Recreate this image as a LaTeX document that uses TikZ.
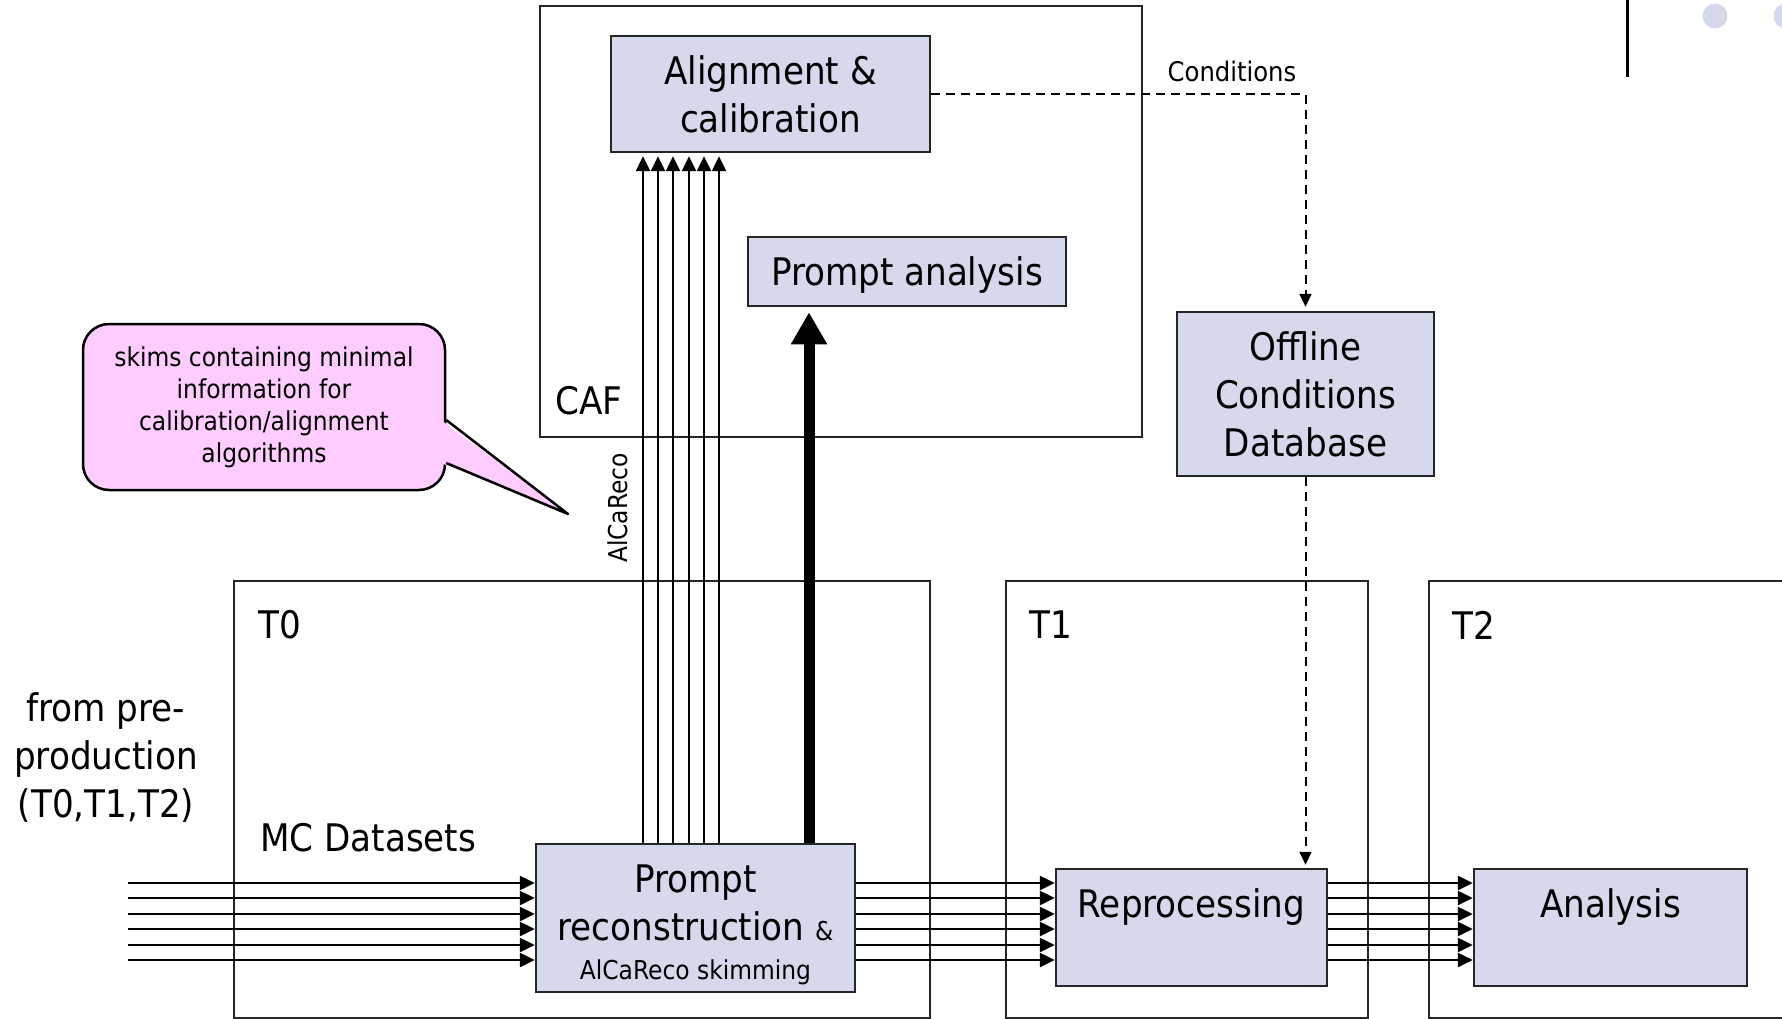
\documentclass[tikz,border=0pt]{standalone}
\usepackage{fontspec}
\setmainfont{DejaVu Sans Condensed}
\usetikzlibrary{arrows.meta}
\definecolor{boxfill}{RGB}{214,216,236}
\definecolor{notepink}{RGB}{255,204,255}
\newcommand{\bigfont}{\fontsize{38}{48}\selectfont}
\newcommand{\smallfont}{\fontsize{26}{32}\selectfont}
\tikzset{
  procbox/.style={draw=black!85, line width=2.5pt, fill=boxfill, align=center, inner sep=0pt, font=\bigfont},
  notebox/.style={draw=black, line width=2.5pt, fill=notepink, rounded corners=26pt, align=center, inner sep=0pt, font=\smallfont},
  region/.style={draw=black!85, line width=2pt},
  tag/.style={inner sep=0pt, font=\bigfont},
  flow/.style={line width=2.5pt, -{Triangle[length=15pt,width=14pt]}},
  bigflow/.style={line width=11pt, -{Triangle[length=32pt,width=34pt]}},
  condflow/.style={line width=2pt, dash pattern=on 9pt off 6pt, -{Triangle[length=13pt,width=12pt]}},
}
\begin{document}
\begin{tikzpicture}[x=1pt, y=-1pt]
    \useasboundingbox (0,0) rectangle (1782,1019);
    % slide decoration
    \draw[line width=3pt] (1627,0) -- (1627,77);
    \fill[boxfill] (1715,16) circle (12.5pt);
    \fill[boxfill] (1786,16) circle (12.5pt);
    % tiers
    \draw[region] (540,6) rectangle (1142,437);
    \draw[region] (234,581) rectangle (930,1018);
    \draw[region] (1006,581) rectangle (1368,1018);
    \draw[region] (1429,581) rectangle (1800,1018);
    \node[tag, anchor=west] (caflabel) at (555,401) {CAF};
    \node[tag, anchor=west] (t0label) at (258,625) {T0};
    \node[tag, anchor=west] (t1label) at (1029,625) {T1};
    \node[tag, anchor=west] (t2label) at (1452,625) {T2};
    \node[tag, anchor=west] (mclabel) at (260,838) {MC Datasets};
    \node[tag, align=center] (prelabel) at (106,758) {from pre-\\production\\(T0,T1,T2)};
    % processing steps
    \node[procbox, minimum width=319pt, minimum height=116pt] (align) at (770.5,94) {Alignment \&\\calibration};
    \node[procbox, minimum width=318pt, minimum height=69pt, text depth=0pt] (pana) at (907,271.5) {Prompt analysis};
    \node[procbox, minimum width=257pt, minimum height=164pt] (odb) at (1305.5,394) {Offline\\Conditions\\Database};
    \node[procbox, minimum width=319pt, minimum height=148pt] (reco) at (695.5,918) {};
    \node[tag, align=center] (recotext) at (695.5,925)
        {Prompt\\reconstruction {\smallfont\&}\\[-9pt]{\smallfont AlCaReco skimming}};
    \node[procbox, minimum width=271pt, minimum height=117pt] (rep) at (1191.5,927.5) {Reprocessing\\\phantom{R}};
    \node[procbox, minimum width=273pt, minimum height=117pt] (ana) at (1610.5,927.5) {Analysis\\\phantom{A}};
    % note
    \node[notebox, minimum width=362pt, minimum height=166pt] (skims) at (264,407)
        {skims containing minimal\\information for\\calibration/alignment\\algorithms};
    \coordinate (tip) at (568,514);
    \fill[notepink] (441,420) -- (tip) -- (441,463) -- cycle;
    \draw[line width=2.5pt, line join=round] (skims.east |- 0,420) -- (tip) -- (skims.east |- 0,463);
    % data flow
    \coordinate (mcin) at (128,921);
    \foreach \y in {883,898,914,929,945,960} {
        \draw[flow] (mcin |- 0,\y) -- (reco.west |- 0,\y);
        \draw[flow] (reco.east |- 0,\y) -- (rep.west |- 0,\y);
        \draw[flow] (rep.east |- 0,\y) -- (ana.west |- 0,\y);
    }
    \foreach \x in {643,658,673,689,704,719} {
        \draw[flow, shorten >=3pt] (reco.north -| \x,0) -- (align.south -| \x,0);
    }
    \node[tag, font=\smallfont, rotate=90] (alcalabel) at (618,508) {AlCaReco};
    \draw[bigflow, shorten >=5pt] (reco.north -| 809,0) -- (pana.south -| 809,0);
    % conditions
    \draw[condflow, shorten >=4pt] (align.east) -| (odb.north);
    \draw[condflow, shorten >=3pt] (odb.south) -- (odb.south |- rep.north);
    \node[tag, font=\fontsize{27}{32}\selectfont] (condlabel) at (1232,71) {Conditions};
\end{tikzpicture}
\end{document}
